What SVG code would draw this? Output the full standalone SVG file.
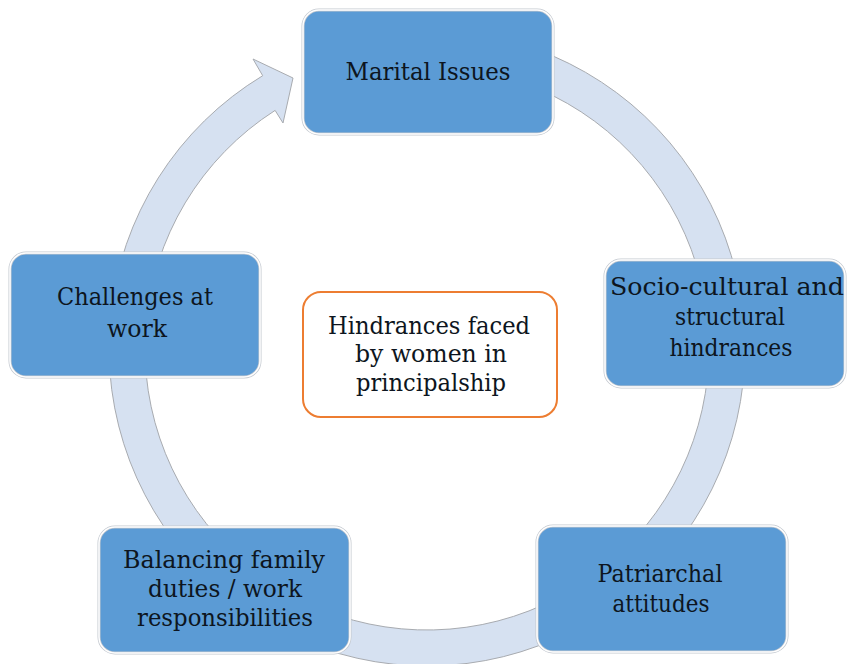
<svg xmlns="http://www.w3.org/2000/svg" width="847" height="664" viewBox="0 0 847 664">
<style>
.node-bg{fill:#5b9bd5;stroke:#c4c9d0;stroke-width:3}
.node-edge{fill:none;stroke:#ffffff;stroke-width:1.5}
.center-box{fill:#ffffff;stroke:#ed7d31;stroke-width:2}
.lbl{font-family:"DejaVu Serif","Liberation Serif",serif;font-size:24px;fill:#0d1520;text-anchor:middle}
.arc{fill:#d6e1f1;stroke:#a8abb0;stroke-width:1}
</style>
<rect width="847" height="664" fill="#ffffff"/>
<g id="connectors">
<path class="arc" d="M 482.2 34.8 A 318 318 0 1 1 262.7 75.7 L 253 59 L 293 78 L 283 123 L 275.1 110.4 A 282 282 0 1 0 476.0 70.3 Z"/>
</g>
<g id="node-marital">
<rect class="node-bg" x="303" y="10" width="250" height="124" rx="16"/>
<rect class="node-edge" x="303" y="10" width="250" height="124" rx="16"/>
<text class="lbl" x="428" y="80" textLength="165" lengthAdjust="spacingAndGlyphs">Marital Issues</text>
</g>
<g id="node-socio">
<rect class="node-bg" x="605" y="260" width="240" height="127" rx="16"/>
<rect class="node-edge" x="605" y="260" width="240" height="127" rx="16"/>
<text class="lbl" x="727" y="295" textLength="234" lengthAdjust="spacingAndGlyphs">Socio-cultural and</text>
<text class="lbl" x="730" y="325" textLength="110" lengthAdjust="spacingAndGlyphs">structural</text>
<text class="lbl" x="731" y="356" textLength="123" lengthAdjust="spacingAndGlyphs">hindrances</text>
</g>
<g id="node-patriarchal">
<rect class="node-bg" x="537" y="526" width="250" height="126" rx="16"/>
<rect class="node-edge" x="537" y="526" width="250" height="126" rx="16"/>
<text class="lbl" x="660" y="582" textLength="125" lengthAdjust="spacingAndGlyphs">Patriarchal</text>
<text class="lbl" x="661" y="612" textLength="97" lengthAdjust="spacingAndGlyphs">attitudes</text>
</g>
<g id="node-balancing">
<rect class="node-bg" x="99" y="527" width="251" height="126" rx="16"/>
<rect class="node-edge" x="99" y="527" width="251" height="126" rx="16"/>
<text class="lbl" x="224" y="568" textLength="202" lengthAdjust="spacingAndGlyphs">Balancing  family</text>
<text class="lbl" x="225" y="597" textLength="154" lengthAdjust="spacingAndGlyphs">duties / work</text>
<text class="lbl" x="225" y="626" textLength="176" lengthAdjust="spacingAndGlyphs">responsibilities</text>
</g>
<g id="node-challenges">
<rect class="node-bg" x="10" y="253" width="250" height="124" rx="16"/>
<rect class="node-edge" x="10" y="253" width="250" height="124" rx="16"/>
<text class="lbl" x="135" y="305" textLength="156" lengthAdjust="spacingAndGlyphs">Challenges at</text>
<text class="lbl" x="137" y="337" textLength="60" lengthAdjust="spacingAndGlyphs">work</text>
</g>
<g id="node-center">
<rect class="center-box" x="303" y="292" width="254" height="125" rx="18"/>
<text class="lbl" x="429" y="334" textLength="202" lengthAdjust="spacingAndGlyphs">Hindrances faced</text>
<text class="lbl" x="431" y="362" textLength="152" lengthAdjust="spacingAndGlyphs">by women in</text>
<text class="lbl" x="431" y="391" textLength="150" lengthAdjust="spacingAndGlyphs">principalship</text>
</g>
</svg>
